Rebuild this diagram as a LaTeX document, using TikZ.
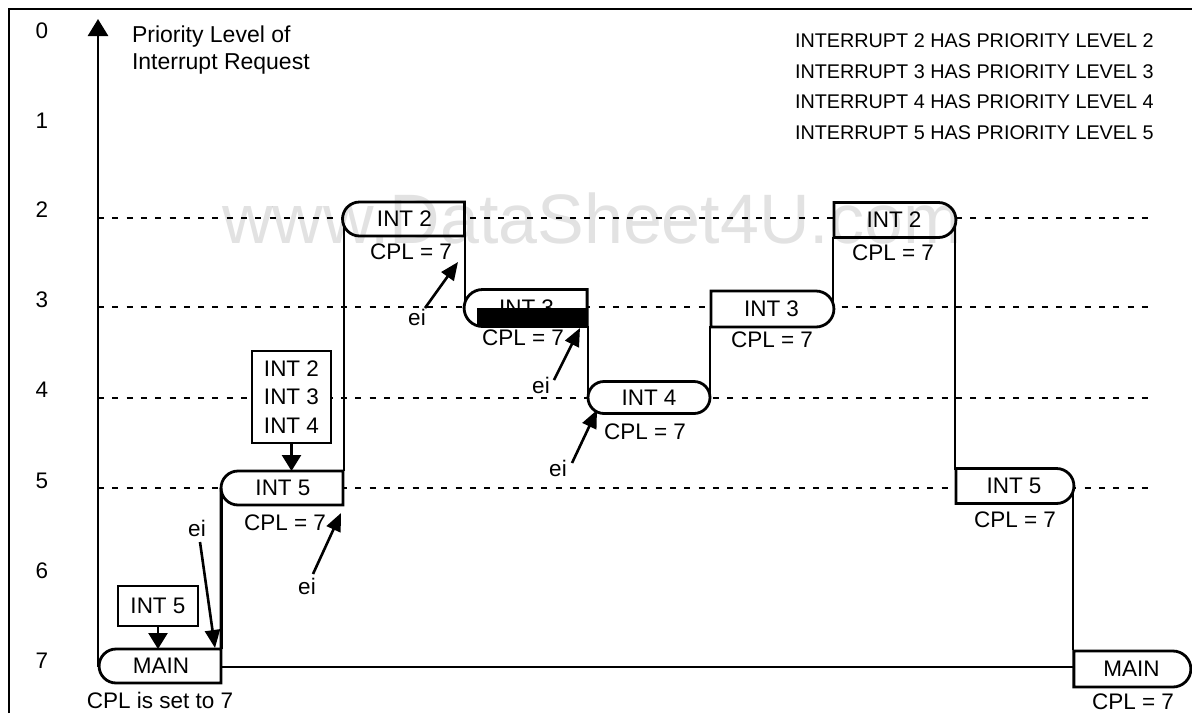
\documentclass[tikz,border=0pt]{standalone}
\usepackage{fontspec}
\setmainfont{Liberation Sans}
\usetikzlibrary{shapes.misc,arrows.meta}
\begin{document}
\begin{tikzpicture}[x=1pt,y=-1pt,
  every node/.style={font=\fontsize{22.5}{26}\selectfont, inner sep=0pt, outer sep=0pt},
  box/.style={draw, fill=white, line width=2.8pt, rounded rectangle, minimum height=34pt, minimum width=122pt},
  lround/.style={box, rounded rectangle east arc=none},
  rround/.style={box, rounded rectangle west arc=none},
  plainbox/.style={draw, fill=white, line width=2.8pt, rectangle},
  dashln/.style={line width=2.5pt, dash pattern=on 6pt off 8.3pt},
  conn/.style={line width=2.8pt},
  eiarr/.style={line width=2.6pt, -{Triangle[length=18pt,width=15pt]}},
  downarr/.style={line width=2.6pt, -{Triangle[length=16pt,width=19pt]}},
  axisarr/.style={line width=2.8pt, -{Triangle[length=17pt,width=20pt]}},
  lvl/.style={font=\fontsize{22.5}{26}\selectfont},
  legend/.style={anchor=west, font=\fontsize{19.8}{23}\selectfont},
  wmark/.style={font=\fontsize{70}{80}\selectfont, text={rgb,255:red,226;green,226;blue,226}}
]
\useasboundingbox (0,0) rectangle (1192,713);

% frame
\draw[line width=2.6pt] (9,713) -- (9,9) -- (1192,9);

% level numbers
\foreach \n/\yy in {0/31,1/121,2/210,3/300,4/390,5/481,6/571,7/661}
  \node[lvl] (lv\n) at (42,\yy) {\n};

% dashed level lines
\foreach \yy in {218,307,398,488}
  \draw[dashln] (98,\yy) -- (1148,\yy);

% axis
\coordinate (axtop) at (98,19);
\coordinate (axbot) at (98,667);
\draw[axisarr] (axbot) -- (axtop);
\node[anchor=west, align=left, font=\fontsize{23}{27}\selectfont] (axlabel) at (132,50) {Priority Level of\\Interrupt Request};

% legend
\node[legend] (lg2) at (795,41) {INTERRUPT 2 HAS PRIORITY LEVEL 2};
\node[legend] (lg3) at (795,72) {INTERRUPT 3 HAS PRIORITY LEVEL 3};
\node[legend] (lg4) at (795,102) {INTERRUPT 4 HAS PRIORITY LEVEL 4};
\node[legend] (lg5) at (795,133) {INTERRUPT 5 HAS PRIORITY LEVEL 5};

% connector lines (drawn before boxes)
\coordinate (m1e) at (222,667);
\coordinate (m2w) at (1073,667);
\draw[conn] (m1e) -- (m2w);
\draw[conn] (222,649) -- (222,488);
\draw[conn] (344,471) -- (344,219);
\draw[conn] (465,236) -- (465,308);
\draw[conn] (588,326) -- (588,398);
\draw[conn] (710,398) -- (710,326);
\draw[conn] (833,308) -- (833,237);
\draw[conn] (955,219) -- (955,470);
\draw[conn] (1073,487) -- (1073,650);

% boxes
\node[lround, minimum height=34pt] (main1) at (161,666) {MAIN};
\node[plainbox, minimum width=80pt, minimum height=40pt] (int5a) at (158,606) {INT 5};
\node[lround] (int5b) at (283,488) {INT 5};
\node[plainbox, minimum width=79pt, minimum height=92pt, align=center, font=\fontsize{22.5}{28.5}\selectfont] (int234) at (291.5,397) {INT 2\\INT 3\\INT 4};
\node[lround] (int2a) at (404.5,219) {INT 2};
\node[lround, minimum height=37pt, minimum width=123pt] (int3a) at (526.5,308) {INT 3};
\fill (477,308) rectangle (588,327);
\node[box, minimum height=32pt] (int4) at (649,397.5) {INT 4};
\node[rround, minimum height=36pt, minimum width=123pt] (int3b) at (771.5,309) {INT 3};
\node[rround, minimum height=35pt] (int2b) at (894,220) {INT 2};
\node[rround, minimum height=35pt, minimum width=118pt] (int5c) at (1014,486) {INT 5};
\node[rround, minimum height=36pt, minimum width=117pt] (main2) at (1131.5,669) {MAIN};

% redraw join on top of boxes
\draw[conn] (main1.north east) -- (int5b.west);

% CPL labels
\node (c1) at (160,700) {CPL is set to 7};
\node (c2) at (285,523) {CPL = 7};
\node (c3) at (411,252) {CPL = 7};
\node (c4) at (523,338) {CPL = 7};
\node (c5) at (645,432) {CPL = 7};
\node (c6) at (772,340) {CPL = 7};
\node (c7) at (893,253) {CPL = 7};
\node (c8) at (1015,520) {CPL = 7};
\node (c9) at (1133,702) {CPL = 7};

% request arrows
\draw[downarr] (int5a.south) -- (int5a.south |- main1.north);
\draw[downarr] (int234.south) -- (int234.south |- int5b.north);

% ei arrows
\node (ei1) at (197,528) {ei};
\node (ei2) at (307,586) {ei};
\node (ei3) at (417,317) {ei};
\node (ei4) at (541,385) {ei};
\node (ei5) at (558,468) {ei};
\coordinate (s1) at (200,542); \coordinate (t1) at (215,648);
\coordinate (s2) at (313,574); \coordinate (t2) at (341,513);
\coordinate (s3) at (425,308); \coordinate (t3) at (458,262);
\coordinate (s4) at (554,380); \coordinate (t4) at (580,328);
\coordinate (s5) at (572,463); \coordinate (t5) at (597,410);
\draw[eiarr] (s1) -- (t1);
\draw[eiarr] (s2) -- (t2);
\draw[eiarr] (s3) -- (t3);
\draw[eiarr] (s4) -- (t4);
\draw[eiarr] (s5) -- (t5);

% watermark
\begin{scope}[blend mode=multiply]
\node[wmark, anchor=base] (wm) at (592,243) {www.DataSheet4U.com};
\end{scope}
\end{tikzpicture}
\end{document}
